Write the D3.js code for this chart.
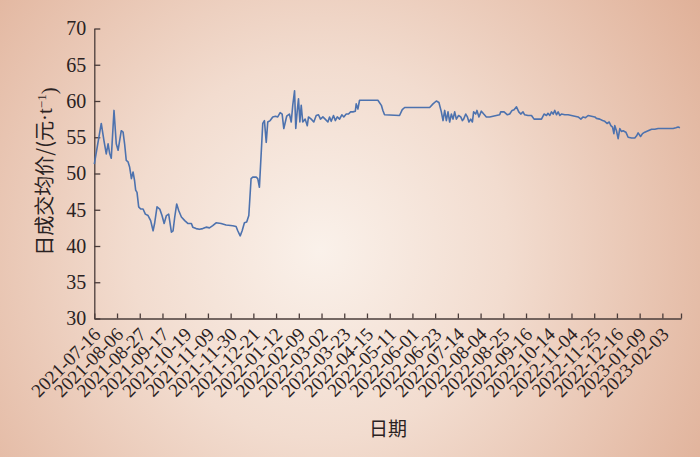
<!DOCTYPE html>
<html>
<head>
<meta charset="utf-8">
<script src="https://cdn.jsdelivr.net/npm/d3@7"></script>
<style>
html,body{margin:0;padding:0;background:#f3ddd0;}
svg{display:block;}
</style>
</head>
<body>
<svg id="chart" width="700" height="457"></svg>
<script>
// ---- data ----
const tickLabels = ["2021-07-16","2021-08-06","2021-08-27","2021-09-17","2021-10-19","2021-11-09","2021-11-30","2021-12-21","2022-01-12","2022-02-09","2022-03-02","2022-03-23","2022-04-15","2022-05-11","2022-06-01","2022-06-23","2022-07-14","2022-08-04","2022-08-25","2022-09-16","2022-10-14","2022-11-04","2022-11-25","2022-12-16","2023-01-09","2023-02-03"];
const tickStep = 15;           // trading days between labels
const lastDay = 387.3;         // axis end (trading-day index)
const yTicks = [30,35,40,45,50,55,60,65,70];

// trading-day index
const tradeDay = [0,4.6,6.4,7.9,9.1,10.1,11.2,13.0,14.5,15.7,17.8,19.0,20.0,21.1,22.3,23.3,24.5,25.6,26.6,27.3,28.2,29.3,30.6,32.2,33.7,35.5,37.2,38.8,39.8,41.4,43.2,44.7,46.1,47.6,49.1,50.9,52.0,53.1,54.4,55.7,57.5,59.7,61.9,64.1,65.0,67.2,69.4,71.6,73.8,76.0,78.2,80.4,83.7,87.0,91.4,93.6,94.7,96.3,97.6,99.1,100.6,102.0,103.5,104.6,106.9,107.9,109.0,110.2,111.2,112.3,113.5,114.5,116.1,117.8,119.6,121.1,122.7,124.0,125.1,127.0,128.8,130.0,131.0,132.2,133.0,133.9,134.8,135.7,136.6,137.6,139.2,140.6,141.4,143.2,144.9,146.5,148.0,149.3,150.9,152.4,154.2,155.3,156.4,157.9,159.1,160.4,161.9,163.4,164.7,166.3,167.8,169.2,170.7,172.3,172.9,174.0,175.1,187.2,189.5,190.5,191.6,201.5,203.3,204.9,221.4,223.6,225.8,227.5,229.1,230.2,231.3,232.4,233.5,234.6,235.7,236.8,237.9,239.0,240.5,241.9,243.0,243.8,245.2,246.3,247.3,248.5,249.6,250.4,251.8,252.6,253.9,255.5,257.1,258.8,261.0,263.2,265.4,267.6,268.3,270.5,272.7,274.2,275.8,277.1,278.7,280.2,281.5,283.0,284.1,286.3,288.6,290.3,295.2,296.9,298.5,299.5,300.7,301.8,302.9,304.0,305.1,306.2,307.3,308.4,310.6,312.8,315.0,317.2,319.4,321.2,322.7,324.3,326.0,328.2,330.4,331.5,333.7,335.5,337.0,338.5,339.9,341.0,342.1,343.0,343.6,344.7,345.8,346.9,348.0,349.1,350.9,352.4,354.7,356.8,358.0,359.0,360.6,361.9,363.4,365.6,367.9,370.0,372.2,378.8,382.1,383.9,385.4,386.6];
// daily average transaction price (yuan/t)
const avgPrice = [51.3,56.9,54.5,52.7,54.1,52.8,52.1,58.7,54.1,53.2,55.9,55.7,54.1,51.8,51.6,50.9,49.3,50.2,49.0,47.7,47.4,45.4,45.1,45.1,44.4,44.2,43.5,42.1,43.1,45.4,45.1,44.2,43.1,44.2,44.4,41.9,42.1,44.0,45.8,44.9,44.0,43.5,43.1,43.1,42.6,42.4,42.3,42.4,42.6,42.5,42.8,43.2,43.1,42.9,42.8,42.7,42.1,41.4,42.1,43.2,43.3,44.2,49.3,49.5,49.5,49.3,48.1,52.9,56.9,57.3,54.3,57.1,57.3,57.8,57.9,57.8,58.4,58.2,56.2,57.9,58.2,57.1,59.4,61.4,56.2,58.5,60.3,57.1,59.4,57.1,57.5,56.6,57.8,57.5,57.1,58.0,58.1,57.5,57.8,57.5,57.1,57.8,57.2,58.0,57.3,57.8,57.5,58.1,57.8,58.2,58.2,58.5,58.5,58.6,59.6,58.9,60.1,60.1,59.4,58.7,58.1,58.0,58.8,59.1,59.1,59.6,60.0,59.8,58.5,57.3,58.7,57.3,58.5,57.1,58.2,57.5,58.5,57.5,58.0,57.8,57.3,57.5,58.2,57.8,57.1,57.5,57.1,58.5,58.2,58.7,57.8,58.6,58.2,57.8,57.8,57.9,58.0,58.1,58.5,58.5,58.1,58.2,58.7,58.8,59.2,58.5,58.2,58.5,58.1,58.0,58.0,57.5,57.5,58.2,58.0,58.3,58.0,58.5,58.2,58.7,58.1,58.5,58.0,58.2,58.1,58.1,58.0,57.9,57.8,57.5,57.8,57.7,58.0,57.9,57.8,57.6,57.5,57.3,57.2,56.9,57.1,56.6,56.4,55.5,56.6,55.9,54.8,56.2,55.8,55.9,55.7,55.0,54.9,54.9,55.2,55.6,55.1,55.5,55.7,55.9,56.1,56.1,56.2,56.2,56.2,56.3,56.4,56.3];

// ---- chart ----
const W = 700, H = 457;
const margin = {left: 94.3, right: 19, top: 28.5, bottom: 138.5};
const svg = d3.select("#chart");

const defs = svg.append("defs");
const grad = defs.append("radialGradient").attr("id","bg")
  .attr("gradientUnits","userSpaceOnUse")
  .attr("cx", 320).attr("cy", 250).attr("r", 470);
grad.append("stop").attr("offset","0%").attr("stop-color","#faf1ea");
grad.append("stop").attr("offset","40%").attr("stop-color","#f2dccf");
grad.append("stop").attr("offset","100%").attr("stop-color","#dfae95");
svg.append("rect").attr("width",W).attr("height",H).attr("fill","url(#bg)");

const x = d3.scaleLinear().domain([0, lastDay]).range([margin.left, W - margin.right]);
const y = d3.scaleLinear().domain([30, 70]).range([H - margin.bottom, margin.top]);

const axisColor = "#4a3c3a";
const serif = "'Liberation Serif','Times New Roman',serif";

// Y axis
const yAxis = d3.axisLeft(y).tickValues(yTicks).tickSizeInner(-6).tickSizeOuter(0).tickPadding(8);
const gy = svg.append("g").attr("transform", `translate(${margin.left},0)`).call(yAxis);
gy.select(".domain").attr("stroke", axisColor).attr("stroke-width", 1.3);
gy.selectAll(".tick line").attr("stroke", axisColor).attr("stroke-width", 1.3);
gy.selectAll(".tick text").attr("fill", "#2a2222").style("font-family", serif).style("font-size","20px");

// X axis
const xTickVals = tickLabels.map((d,i) => i * tickStep).concat([lastDay]);
const xAxis = d3.axisBottom(x).tickValues(xTickVals).tickSizeInner(-5).tickSizeOuter(0)
  .tickFormat((d,i) => i < tickLabels.length ? tickLabels[i] : "");
const gx = svg.append("g").attr("transform", `translate(0,${H - margin.bottom})`).call(xAxis);
gx.select(".domain").attr("stroke", axisColor).attr("stroke-width", 1.3);
gx.selectAll(".tick line").attr("stroke", axisColor).attr("stroke-width", 1.3);
gx.selectAll(".tick text")
  .attr("fill", "#2a2222")
  .style("font-family", serif).style("font-size","19px")
  .attr("text-anchor","end")
  .attr("x", 0).attr("y", 0).attr("dy", 0)
  .attr("transform", "translate(7,17) rotate(-45)");

// line
const pts = tradeDay.map((d,i) => [d, avgPrice[i]]);
svg.append("path").datum(pts)
  .attr("fill","none").attr("stroke","#4d72ae").attr("stroke-width",1.6)
  .attr("stroke-linejoin","round")
  .attr("d", d3.line().x(d => x(d[0])).y(d => y(d[1])));

// titles
const yt = svg.append("text")
  .attr("transform", `translate(52,${(85+258)/2}) rotate(-90)`)
  .attr("text-anchor","middle")
  .style("font-family","'Noto Sans CJK SC',sans-serif").style("font-size","20px")
  .attr("fill","#2a2222");
yt.append("tspan").text("日成交均价/(元");
yt.append("tspan").style("font-family", serif).style("font-size","21px").text("·t");
yt.append("tspan").attr("dy","-0.5em").style("font-family", serif).style("font-size","13px").text("−1");
yt.append("tspan").attr("dy","0.5em").style("font-family", serif).style("font-size","21px").text(")");

svg.append("text").attr("x", 388).attr("y", 436).attr("text-anchor","middle")
  .style("font-family","'Noto Sans CJK SC',sans-serif").style("font-size","19px")
  .attr("fill","#2a2222").text("日期");
</script>
</body>
</html>
